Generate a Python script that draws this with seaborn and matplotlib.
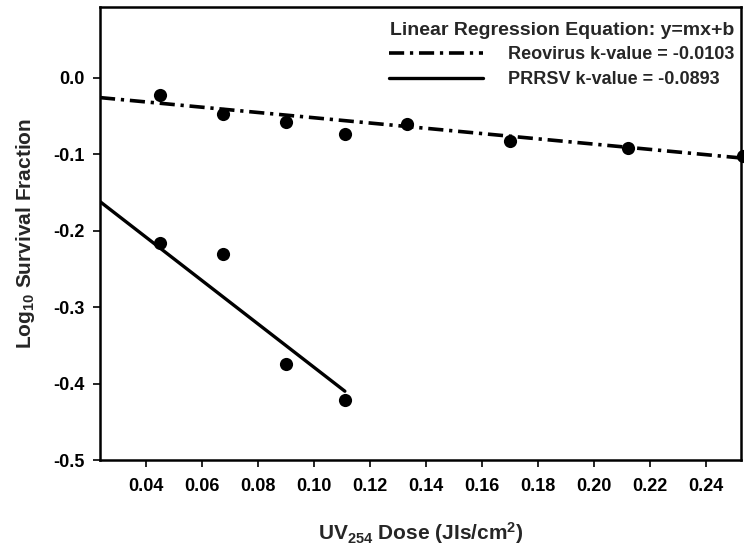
import numpy as np
import pandas as pd
import matplotlib
matplotlib.use("Agg")
import matplotlib.pyplot as plt
import seaborn as sns

# UV254 doses and log10 survival values
reo_dose = [0.045, 0.0675, 0.090, 0.111, 0.133, 0.170, 0.212, 0.253]
reo_logs = [-0.022, -0.048, -0.058, -0.074, -0.060, -0.083, -0.092, -0.102]
prrsv_dose = [0.045, 0.0675, 0.090, 0.111]
prrsv_logs = [-0.216, -0.231, -0.375, -0.421]

# regression lines as drawn
reo_fit_x = [0.0236, 0.2525]
reo_fit_y = [-0.026, -0.105]
prrsv_fit_x = [0.0236, 0.111]
prrsv_fit_y = [-0.162, -0.410]

legend_title = "Linear Regression Equation: y=mx+b"
reo_label = "Reovirus k-value = -0.0103"
prrsv_label = "PRRSV k-value = -0.0893"

sns.set_theme(style="ticks")
plt.rcParams['font.family'] = ['Liberation Sans', 'DejaVu Sans']
plt.rcParams['font.weight'] = 'bold'
plt.rcParams['axes.unicode_minus'] = False
plt.rcParams['mathtext.fontset'] = 'custom'
plt.rcParams['mathtext.rm'] = 'Liberation Sans:bold'
plt.rcParams['mathtext.bf'] = 'Liberation Sans:bold'
plt.rcParams['mathtext.default'] = 'bf'

pts = pd.DataFrame({
    'dose': reo_dose + prrsv_dose,
    'logs': reo_logs + prrsv_logs,
    'virus': ['Reovirus'] * len(reo_dose) + ['PRRSV'] * len(prrsv_dose),
})

fig = plt.figure(figsize=(7.44, 5.5), dpi=100)
ax = fig.add_axes([0.1344, 0.1636, 0.862, 0.823])

l1, = ax.plot(reo_fit_x, reo_fit_y, color='black', lw=2.6,
              dashes=(4.2, 1.6, 0.9, 1.6), label=reo_label, zorder=2)
l2, = ax.plot(prrsv_fit_x, prrsv_fit_y, color='black', lw=2.4,
              label=prrsv_label, zorder=2)
sns.scatterplot(data=pts, x='dose', y='logs', color='black', s=90,
                edgecolor='black', linewidth=0, legend=False, ax=ax,
                zorder=3, clip_on=False)

ax.set_xlim(0.0236, 0.2525)
ax.set_ylim(-0.5, 0.092)
ax.set_xticks(np.arange(0.04, 0.2401, 0.02))
ax.set_xticklabels([f"{v:.2f}" for v in np.arange(0.04, 0.2401, 0.02)])
ax.set_yticks(np.arange(-0.5, 0.001, 0.1))
ax.set_yticklabels([f"{v:.1f}" if abs(v) > 1e-9 else "0.0"
                    for v in np.arange(-0.5, 0.001, 0.1)])

ax.tick_params(axis='both', direction='out', length=5, width=1.2,
               color='black', labelsize=13, labelcolor='black')
ax.tick_params(axis='x', pad=8)
ax.tick_params(axis='y', pad=6)
for lab in ax.get_xticklabels() + ax.get_yticklabels():
    lab.set_fontweight('bold')
for s in ax.spines.values():
    s.set_linewidth(1.8)
    s.set_color('black')

ax.set_xlabel(r"UV$_{254}$ Dose (JIs/cm$^{2}$)",
              fontsize=15, fontweight='bold', labelpad=18)
ax.set_ylabel(r"Log$_{10}$ Survival Fraction",
              fontsize=15, fontweight='bold', labelpad=12)

leg = ax.legend(handles=[l1, l2], loc='upper right', frameon=False,
                title=legend_title, fontsize=13, handlelength=5.2,
                handletextpad=1.35, labelspacing=0.42,
                bbox_to_anchor=(1.0, 0.984), borderaxespad=0.0)
leg.get_title().set_fontsize(14)
leg.get_title().set_fontweight('bold')
for t in leg.get_texts():
    t.set_fontweight('bold')

fig.savefig('out.png', dpi=100)
